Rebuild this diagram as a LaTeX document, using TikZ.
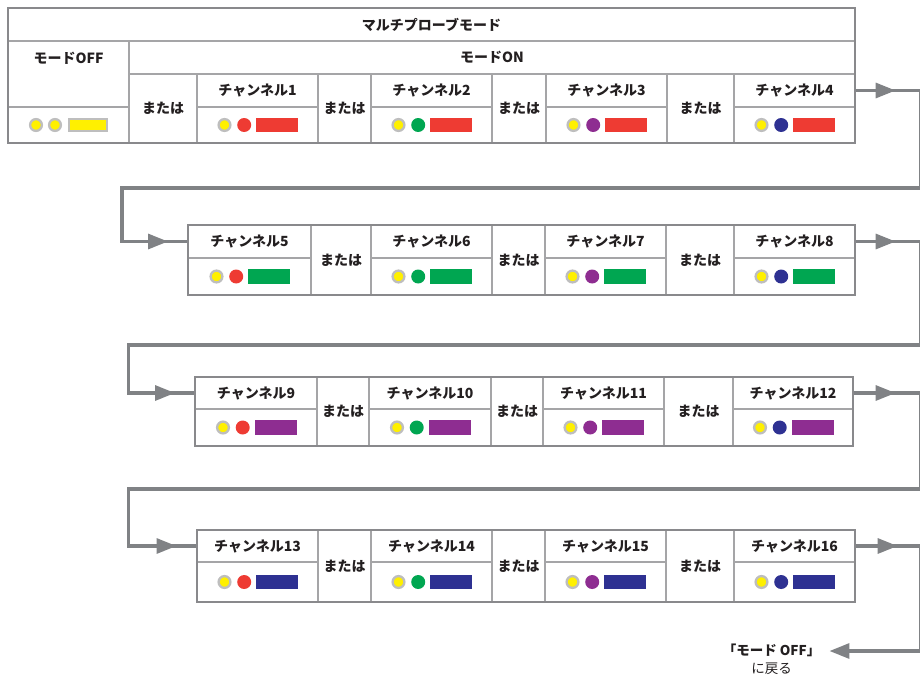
\documentclass[tikz,border=0pt]{standalone}
\usepackage{fontspec}
\setmainfont{Noto Sans CJK JP}
\usepackage{xcolor}
\usetikzlibrary{arrows.meta}
\definecolor{frameGray}{RGB}{137,137,140}
\definecolor{cellGray}{RGB}{165,165,167}
\definecolor{wireGray}{RGB}{128,130,133}
\definecolor{ringGray}{RGB}{190,190,190}
\definecolor{ledYellow}{RGB}{255,240,0}
\definecolor{chRed}{RGB}{238,59,51}
\definecolor{chGreen}{RGB}{0,166,81}
\definecolor{chPurple}{RGB}{142,45,145}
\definecolor{chNavy}{RGB}{46,49,146}
\definecolor{inkBlack}{RGB}{35,31,32}
\tikzset{
  tcell/.style={draw=cellGray,line width=1.2pt,inner sep=0pt,text=inkBlack,font=\bfseries\fontsize{14}{16}\selectfont},
  outerframe/.style={draw=frameGray,line width=2.4pt},
  wire/.style={draw=wireGray,line width=3.2pt},
  arrowhd/.style={-{Triangle[length=20pt,width=15pt]}},
  ledring/.style={circle,inner sep=0pt,minimum size=11.8pt,fill=ledYellow,draw=ringGray,line width=2.3pt},
  led/.style={circle,inner sep=0pt,minimum size=14pt},
  bar/.style={inner sep=0pt,minimum width=42pt,minimum height=14.5pt}
}
% name, left, right, top, mid, bottom, number, led colour, bar colour
\newcommand{\channel}[9]{%
  \node[tcell,minimum width={(#3-#2)*1pt},minimum height={(#5-#4)*1pt}] (#1) at ({(#2+#3)/2},{(#4+#5)/2}) {チャンネル#7};
  \node[tcell,minimum width={(#3-#2)*1pt},minimum height={(#6-#5)*1pt}] (#1i) at ({(#2+#3)/2},{(#5+#6)/2}) {};
  \node[ledring,xshift=-33pt] at (#1i) {};
  \node[led,fill=#8,xshift=-13.3pt] at (#1i) {};
  \node[bar,fill=#9,xshift=19.6pt] at (#1i) {};
}
% name, left, right, top, bottom
\newcommand{\orcell}[5]{%
  \node[tcell,minimum width={(#3-#2)*1pt},minimum height={(#5-#4)*1pt}] (#1) at ({(#2+#3)/2},{(#4+#5)/2}) {または};
}

\begin{document}
\begin{tikzpicture}[x=1pt,y=-1pt]
\useasboundingbox (0,0) rectangle (920,677);
% first row: multi-probe mode table
\node[tcell,minimum width=847pt,minimum height=33pt] (title) at (431.5,24.5) {マルチプローブモード};
\node[tcell,minimum width=121pt,minimum height=66pt] (off) at (68.5,74) {};
\node[text=inkBlack,font=\bfseries\fontsize{14}{16}\selectfont] (offtxt) at (68.5,58) {モードOFF};
\node[tcell,minimum width=726pt,minimum height=33pt] (on) at (492,57.5) {モードON};
\node[tcell,minimum width=121pt,minimum height=36pt] (offi) at (68.5,125) {};
\node[ledring,xshift=-32.5pt] at (offi) {};
\node[ledring,xshift=-13.5pt] at (offi) {};
\node[bar,fill=ledYellow,draw=ringGray,line width=1.8pt,minimum width=38pt,minimum height=12pt,xshift=19.8pt] at (offi) {};
\orcell{o1}{129}{197}{74}{143}
\channel{c1}{197}{318}{74}{107}{143}{1}{chRed}{chRed}
\orcell{o2}{318}{371}{74}{143}
\channel{c2}{371}{492}{74}{107}{143}{2}{chGreen}{chRed}
\orcell{o3}{492}{546}{74}{143}
\channel{c3}{546}{667}{74}{107}{143}{3}{chPurple}{chRed}
\orcell{o4}{667}{734}{74}{143}
\channel{c4}{734}{855}{74}{107}{143}{4}{chNavy}{chRed}
\draw[outerframe] (8,8) rectangle (855,143);
% second row
\channel{c5}{188}{311}{225}{258}{295}{5}{chRed}{chGreen}
\orcell{o5}{311}{371}{225}{295}
\channel{c6}{371}{492}{225}{258}{295}{6}{chGreen}{chGreen}
\orcell{o6}{492}{545}{225}{295}
\channel{c7}{545}{666}{225}{258}{295}{7}{chPurple}{chGreen}
\orcell{o7}{666}{734}{225}{295}
\channel{c8}{734}{855}{225}{258}{295}{8}{chNavy}{chGreen}
\draw[outerframe] (188,225) rectangle (855,295);
% third row
\channel{c9}{195}{317}{377}{409}{446}{9}{chRed}{chPurple}
\orcell{o9}{317}{369}{377}{446}
\channel{c10}{369}{491}{377}{409}{446}{10}{chGreen}{chPurple}
\orcell{o10}{491}{543}{377}{446}
\channel{c11}{543}{664}{377}{409}{446}{11}{chPurple}{chPurple}
\orcell{o11}{664}{733}{377}{446}
\channel{c12}{733}{853}{377}{409}{446}{12}{chNavy}{chPurple}
\draw[outerframe] (195,377) rectangle (853,446);
% fourth row
\channel{c13}{197}{318}{530}{562}{602}{13}{chRed}{chNavy}
\orcell{o13}{318}{371}{530}{602}
\channel{c14}{371}{492}{530}{562}{602}{14}{chGreen}{chNavy}
\orcell{o14}{492}{545}{530}{602}
\channel{c15}{545}{666}{530}{562}{602}{15}{chPurple}{chNavy}
\orcell{o15}{666}{734}{530}{602}
\channel{c16}{734}{855}{530}{562}{602}{16}{chNavy}{chNavy}
\draw[outerframe] (197,530) rectangle (855,602);
% back to mode OFF
\node[text=inkBlack,font=\bfseries\fontsize{13.5}{16}\selectfont,inner xsep=9pt] (back) at (771.5,650) {「モード OFF」};
\node[text=inkBlack,font=\fontsize{13.5}{16}\selectfont] (backsub) at (771.5,669) {に戻る};
% connectors
\coordinate (r1r) at (920.5,188);
\coordinate (r1l) at (122,188);
\coordinate (r2r) at (920.5,345);
\coordinate (r2l) at (128.5,345);
\coordinate (r3r) at (920.5,489);
\coordinate (r3l) at (128.5,489);
\coordinate (r4r) at (920.5,651);
\draw[wire] (c4.east) -| (r1r) -- (r1l) |- (c5.west);
\draw[wire,arrowhd] (c4.east) -- ++(40,0);
\draw[wire,arrowhd] (r1l |- c5.west) -- ++(46,0);
\draw[wire] (c8.east) -| (r2r) -- (r2l) |- (c9.west);
\draw[wire,arrowhd] (c8.east) -- ++(40,0);
\draw[wire,arrowhd] (r2l |- c9.west) -- ++(46.5,0);
\draw[wire] (c12.east) -| (r3r) -- (r3l) |- (c13.west);
\draw[wire,arrowhd] (c12.east) -- ++(42,0);
\draw[wire,arrowhd] (r3l |- c13.west) -- ++(48,0);
\draw[wire,arrowhd] (c16.east) -| (r4r) -- (back.east |- r4r);
\draw[wire,arrowhd] (c16.east) -- ++(42,0);
\end{tikzpicture}
\end{document}
